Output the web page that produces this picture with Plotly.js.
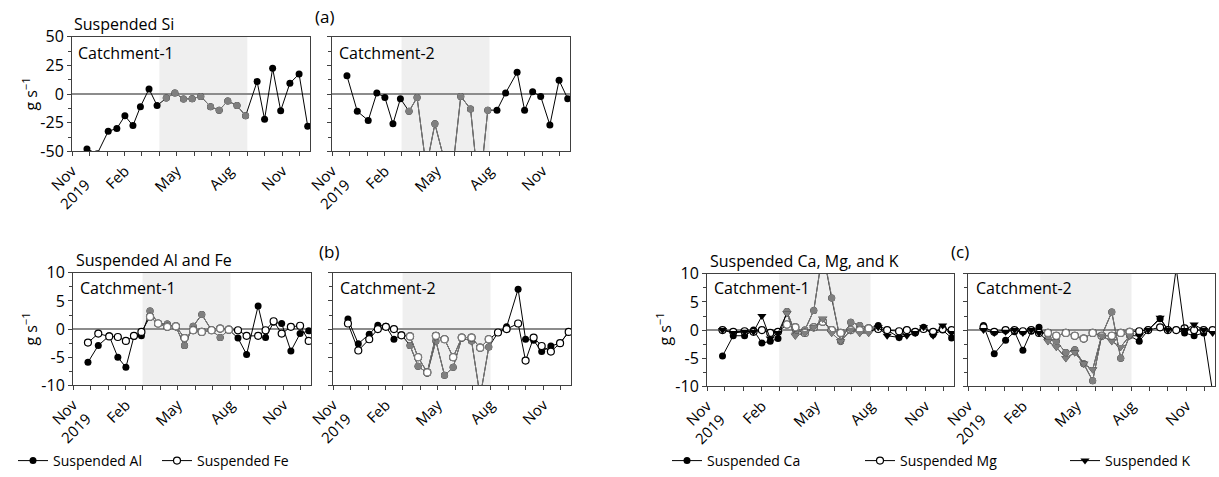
<!DOCTYPE html>
<html><head><meta charset="utf-8">
<script src="https://cdn.plot.ly/plotly-3.0.1.min.js"></script>
<style>html,body{margin:0;padding:0;background:#fff}#chart{width:1219px;height:477px}</style>
</head><body><div id="chart"></div>
<script>
// ---------------- DATA ----------------
const dates = ['2019-11-27','2019-12-15','2020-01-03','2020-01-18','2020-02-01','2020-02-15','2020-02-28','2020-03-14','2020-03-28','2020-04-13','2020-04-28','2020-05-13','2020-05-28','2020-06-12','2020-06-29','2020-07-14','2020-07-29','2020-08-14','2020-08-29','2020-09-18','2020-10-01','2020-10-15','2020-10-29','2020-11-14','2020-11-30','2020-12-15'];

const siC1 = [-48,-52,-32.5,-30,-19,-27.5,-11,4.5,-10,-3.5,1,-4.3,-4,-2,-11,-14,-6,-10,-19,11,-22,22.5,-14.5,9.5,17.5,-28];
const siC2 = [16,-15,-23,1,-3,-26,-4,-15,-3,-64,-26,-55,-70,-2,-13,-87,-14,-14,1,19,-14,2,-2,-27,12,-4];

const alC1 = [-5.9,-2.9,-1.2,-5.0,-6.8,-1.3,-1.2,3.2,1.0,0.9,0.4,-2.9,0.5,2.6,-0.2,-1.5,-0.1,-1.6,-4.5,4.1,-1.5,1.2,1.0,-3.9,-0.8,-0.3];
const feC1 = [-2.4,-0.8,-1.3,-1.4,-2.1,-1.2,-0.5,2.2,1.0,0.4,0.5,-1.6,-0.2,-0.5,-0.2,0.1,-0.1,-0.2,-1.2,-1.2,-0.2,1.4,-0.8,0.4,0.6,-2.1];
const alC2 = [1.8,-2.6,-0.9,0.7,0.5,-1.8,-1.0,-2.9,-6.6,-7.8,-2.1,-8.2,-6.8,-1.6,-2.1,-12,-3.2,-0.6,0.4,7.1,-1.8,-2.0,-4.0,-3.0,-2.5,-0.5];
const feC2 = [1.0,-3.8,-1.8,0,0.4,0,-1.1,-1.3,-5.0,-7.7,-1.2,-1.8,-5.0,-1.5,-1.5,-3.3,-1.8,-0.6,0,1.0,-5.6,-1.5,-3.0,-4.0,-2.5,-0.5];

const caC1 = [-4.6,-1.0,-1.0,0,-2.3,-2.0,-1.5,3.3,-0.5,0,3.5,14,5.7,-2,1.4,0.8,0.3,0.8,0,-1.3,0,-0.5,0.5,-0.8,0,-1.4];
const mgC1 = [0,-0.3,-0.2,-0.3,0,-0.5,-0.3,1.0,0.5,-0.5,0.5,1.5,0,-0.5,0,0,0.3,0.2,0,-0.2,0,-0.3,0.2,-0.3,0.2,0];
const kC1  = [0,-0.5,-0.3,-0.3,2.5,-1.5,-0.5,3.0,-1.0,-0.5,0.5,2.0,-0.5,-2.0,0,-0.5,-0.5,0.5,-1.0,-1.3,-1.0,-0.5,0.5,-1.0,0.8,-0.5];
const caC2 = [0.8,-4.2,-1.8,-0.3,-3.6,-0.2,0.5,-1.5,-2,-4,-3.5,-6,-9,-1,3.2,-5,-1,-2,0,2,0,0,-0.5,-1,-0.5,-11];
const mgC2 = [0.5,-0.3,0,0,-0.2,0,-0.5,-0.5,-1,-0.5,-1,-1.5,-0.5,-1,-1,-0.5,-0.3,-0.2,0,0.5,0,0,0.3,0,0,0];
const kC2  = [0,-0.5,-0.3,0,-0.5,0,-0.5,-2,-3,-5,-4,-6,-7,-1,-2,-3,-1,-1,0,2.2,0,11,0,1,0,-0.5];

const shadeSiC1 = ['2020-04-01','2020-09-01'];
const shadeOther = ['2020-03-01','2020-08-01'];
const xRange = ['2019-11-01','2020-12-19'];
const tickVals = ['2019-11-01','2020-02-01','2020-05-01','2020-08-01','2020-11-01'];
const tickText = ['Nov<br>2019','Feb','May','Aug','Nov'];
const yTicksSi = [-50,-25,0,25,50];
const yTicksSiText = ['-50','-25','0','25','50'];
const yTicksEl = [-10,-5,0,5,10];
const yTicksElText = ['-10','-5','0','5','10'];

const seriesNames = {al:'Suspended Al', fe:'Suspended Fe', ca:'Suspended Ca', mg:'Suspended Mg', k:'Suspended K'};

// ---------------- LAYOUT HELPERS ----------------
const W = 1219, H = 477;
const FONT = 'Open Sans';
const BLACK = '#000000', GREY = '#7f7f7f', SHADE = '#efefef', AXC = '#404040';
const px = v => v / W;
const py = v => 1 - v / H;

const boxes = {
  1: {x:[72,310],  y:[37,152]},
  2: {x:[332,570], y:[37,152]},
  3: {x:[73,311],  y:[274,387]},
  4: {x:[333,571], y:[274,387]},
  5: {x:[707,954], y:[275,388]},
  6: {x:[968,1215],y:[275,388]}
};

const legendPos = {legend: 13, legend2: 157, legend3: 667, legend4: 860, legend5: 1065};

const layout = {
  width: W, height: H,
  margin: {l:0, r:0, t:0, b:0},
  paper_bgcolor: '#fff', plot_bgcolor: 'rgba(0,0,0,0)',
  font: {family: FONT, size: 16, color: '#000'},
  showlegend: true,
  shapes: [], annotations: []
};
Object.keys(legendPos).forEach(k => {
  layout[k] = {orientation:'h', x: px(legendPos[k]), y: py(463), xanchor:'left', yanchor:'middle',
    font:{family:FONT, size:14, color:'#000'}, bgcolor:'rgba(0,0,0,0)', itemwidth:30};
});

function addAxes(i, yr, yv, yt, ymin, showY) {
  const b = boxes[i];
  const xs = i === 1 ? 'xaxis' : 'xaxis' + i;
  const ys = i === 1 ? 'yaxis' : 'yaxis' + i;
  const ya = i === 1 ? 'y' : 'y' + i;
  const xa = i === 1 ? 'x' : 'x' + i;
  layout[xs] = {
    domain: [px(b.x[0]), px(b.x[1])], anchor: ya, type: 'date', range: xRange,
    tickmode: 'array', tickvals: tickVals, ticktext: tickText, tickangle: -45,
    ticks: 'outside', ticklen: 4, tickcolor: AXC, tickfont: {family:FONT, size:15},
    minor: {ticks:'outside', ticklen:4, tickcolor:AXC, dtick:'M1', tick0:'2019-11-01', showgrid:false},
    showline: true, linecolor: AXC, linewidth: 1, mirror: true,
    showgrid: false, zeroline: false, fixedrange: true
  };
  layout[ys] = {
    domain: [py(b.y[1]), py(b.y[0])], anchor: xa, range: yr,
    tickmode: 'array', tickvals: yv, ticktext: yt,
    ticks: 'outside', ticklen: 4, tickcolor: AXC, showticklabels: showY,
    tickfont: {family:FONT, size:16},
    minor: {ticks:'outside', ticklen:3, tickcolor:AXC, dtick: ymin, tick0: 0, showgrid:false},
    showline: true, linecolor: AXC, linewidth: 1, mirror: true,
    showgrid: false, zeroline: true, zerolinecolor: '#8c8c8c', zerolinewidth: 1.5, fixedrange: true
  };
}

function addShade(i, rng) {
  const xa = i === 1 ? 'x' : 'x' + i;
  const ya = i === 1 ? 'y' : 'y' + i;
  layout.shapes.push({type:'rect', xref: xa, yref: ya + ' domain', x0: rng[0], x1: rng[1], y0: 0, y1: 1,
    fillcolor: SHADE, line: {width:0}, layer: 'below'});
}

function ann(text, x, y, opts) {
  layout.annotations.push(Object.assign({text, xref:'paper', yref:'paper', x: px(x), y: py(y),
    showarrow:false, font:{family:FONT, size:16, color:'#000'}, xanchor:'left', yanchor:'middle'}, opts || {}));
}

// ---------------- TRACES ----------------
const traces = [];
function inRange(d, rng) { return d >= rng[0] && d <= rng[1]; }

function addSeries(i, vals, rng, sym, name, legend, showLeg) {
  const xa = i === 1 ? 'x' : 'x' + i;
  const ya = i === 1 ? 'y' : 'y' + i;
  const open = sym === 'circle-open';
  const baseSym = open ? 'circle' : sym;
  const msize = sym === 'triangle-down' ? 8 : 7;
  traces.push({
    x: dates, y: vals, xaxis: xa, yaxis: ya, type: 'scatter', mode: 'lines+markers',
    name: name, legend: legend, showlegend: showLeg, legendgroup: name,
    line: {color: BLACK, width: 1},
    marker: {symbol: baseSym, size: msize, color: open ? '#fff' : BLACK, line: {color: BLACK, width: open ? 1.2 : 0}},
    cliponaxis: true, hoverinfo: 'skip'
  });
  const gy = vals.map((v, k) => inRange(dates[k], rng) ? v : null);
  traces.push({
    x: dates, y: gy, xaxis: xa, yaxis: ya, type: 'scatter', mode: 'lines+markers',
    showlegend: false, legend: legend, legendgroup: name, connectgaps: false,
    line: {color: GREY, width: 1},
    marker: {symbol: baseSym, size: msize, color: open ? '#fff' : GREY, line: {color: GREY, width: open ? 1.2 : 0}},
    cliponaxis: true, hoverinfo: 'skip'
  });
}

// (a) Suspended Si
addAxes(1, [-50, 50], yTicksSi, yTicksSiText, 12.5, true);
addAxes(2, [-50, 50], yTicksSi, yTicksSiText, 12.5, false);
addShade(1, shadeSiC1);
addShade(2, shadeOther);
addSeries(1, siC1, shadeSiC1, 'circle', 'Suspended Si', 'legend', false);
addSeries(2, siC2, shadeOther, 'circle', 'Suspended Si', 'legend', false);

// (b) Al and Fe
addAxes(3, [-10, 10], yTicksEl, yTicksElText, 2.5, true);
addAxes(4, [-10, 10], yTicksEl, yTicksElText, 2.5, false);
addShade(3, shadeOther);
addShade(4, shadeOther);
addSeries(3, alC1, shadeOther, 'circle', seriesNames.al, 'legend', true);
addSeries(3, feC1, shadeOther, 'circle-open', seriesNames.fe, 'legend2', true);
addSeries(4, alC2, shadeOther, 'circle', seriesNames.al, 'legend', false);
addSeries(4, feC2, shadeOther, 'circle-open', seriesNames.fe, 'legend2', false);

// (c) Ca, Mg, K
addAxes(5, [-10, 10], yTicksEl, yTicksElText, 2.5, true);
addAxes(6, [-10, 10], yTicksEl, yTicksElText, 2.5, false);
addShade(5, shadeOther);
addShade(6, shadeOther);
addSeries(5, caC1, shadeOther, 'circle', seriesNames.ca, 'legend3', true);
addSeries(5, mgC1, shadeOther, 'circle-open', seriesNames.mg, 'legend4', true);
addSeries(5, kC1, shadeOther, 'triangle-down', seriesNames.k, 'legend5', true);
addSeries(6, caC2, shadeOther, 'circle', seriesNames.ca, 'legend3', false);
addSeries(6, mgC2, shadeOther, 'circle-open', seriesNames.mg, 'legend4', false);
addSeries(6, kC2, shadeOther, 'triangle-down', seriesNames.k, 'legend5', false);

// ---------------- TEXT ----------------
ann('Suspended Si', 72, 24);
ann('(a)', 313, 17, {font:{family:FONT, size:17}});
ann('Catchment-1', 76, 53);
ann('Catchment-2', 337, 53);
ann('Suspended Al and Fe', 74, 261);
ann('(b)', 317, 253, {font:{family:FONT, size:17}});
ann('Catchment-1', 78, 289);
ann('Catchment-2', 338, 289);
ann('Suspended Ca, Mg, and K', 708, 262);
ann('(c)', 949, 253, {font:{family:FONT, size:17}});
ann('Catchment-1', 712, 289);
ann('Catchment-2', 974, 289);
const yTitle = 'g s<sup>−1</sup>';
ann(yTitle, 30, 95, {textangle:-90, xanchor:'center'});
ann(yTitle, 30, 331, {textangle:-90, xanchor:'center'});
ann(yTitle, 664, 331, {textangle:-90, xanchor:'center'});

Plotly.newPlot('chart', traces, layout, {staticPlot: true, displayModeBar: false});
</script></body></html>
